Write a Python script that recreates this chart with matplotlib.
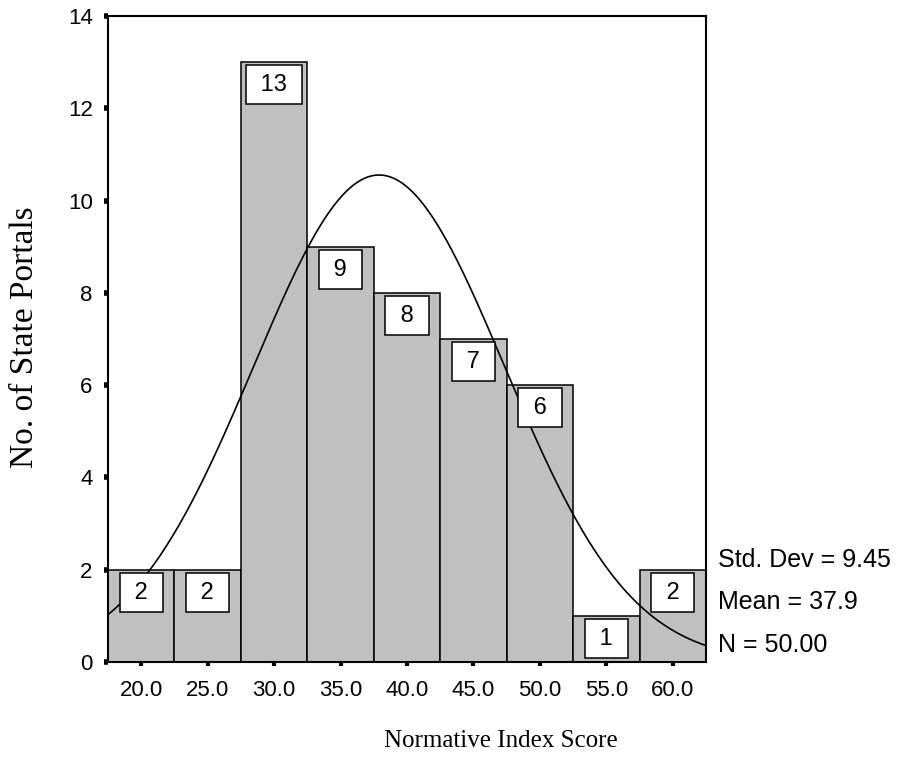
import numpy as np
import matplotlib
matplotlib.use("Agg")
import matplotlib.pyplot as plt

# histogram data (bin centres and counts)
bin_centers = [20.0, 25.0, 30.0, 35.0, 40.0, 45.0, 50.0, 55.0, 60.0]
counts = [2, 2, 13, 9, 8, 7, 6, 1, 2]
tick_labels = ["20.0", "25.0", "30.0", "35.0", "40.0", "45.0", "50.0", "55.0", "60.0"]

# summary statistics shown beside the chart
std_dev = 9.45
mean = 37.9
n_total = 50.00
bin_width = 5.0

plt.rcParams['font.family'] = ['Liberation Sans', 'DejaVu Sans']

fig = plt.figure(figsize=(8.98, 7.82), dpi=100)
ax = fig.add_axes([108 / 898, 1 - 662 / 782, 598 / 898, 646 / 782])

ax.bar(bin_centers, counts, width=bin_width, color="#c0c0c0",
       edgecolor="black", linewidth=1.1, zorder=2)

# fitted normal curve
xs = np.linspace(17.5, 62.5, 400)
ys = n_total * bin_width / (std_dev * np.sqrt(2 * np.pi)) * np.exp(-0.5 * ((xs - mean) / std_dev) ** 2)
ax.plot(xs, ys, color="black", linewidth=1.2, zorder=3)

# count labels in white boxes
for xc, c in zip(bin_centers, counts):
    ax.annotate(f" {c} ", xy=(xc, c), xytext=(0, -8.5), textcoords="offset points",
                ha="center", va="top", fontsize=17, zorder=4,
                bbox=dict(boxstyle="square,pad=0.36", fc="white", ec="black", lw=1.1))

ax.set_xlim(17.5, 62.5)
ax.set_ylim(0, 14)
ax.set_xticks(bin_centers)
ax.set_xticklabels(tick_labels)
ax.set_yticks(range(0, 15, 2))
ax.tick_params(axis="both", labelsize=16, direction="out")
ax.tick_params(axis="y", length=3, width=4, pad=8)
ax.tick_params(axis="x", length=3, width=3, pad=10)
for sp in ax.spines.values():
    sp.set_linewidth(1.5)

stats = [f"Std. Dev = {std_dev:.2f}", f"Mean = {mean:.1f}", f"N = {n_total:.2f}"]
for i, s in enumerate(stats):
    ax.text(63.4, 2.06 - i * 0.92, s, fontsize=18, va="baseline", ha="left", clip_on=False)

fig.text(0.028, 1 - 337 / 782, "No. of State Portals", rotation=90, ha="center", va="center",
         fontsize=24, family="Liberation Serif")
fig.text(501 / 898, 1 - 741 / 782, "Normative Index Score", ha="center", va="center",
         fontsize=18, family="Liberation Serif")

fig.savefig("out.png", dpi=100)
